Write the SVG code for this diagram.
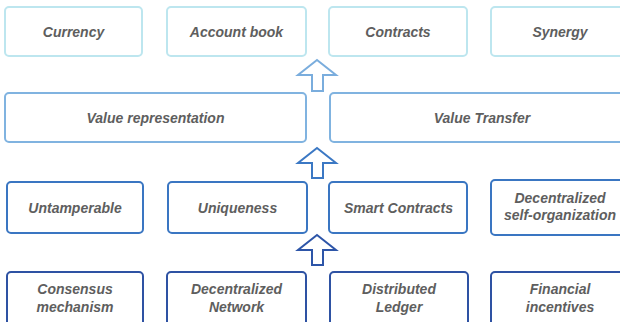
<svg xmlns="http://www.w3.org/2000/svg" width="620" height="322" viewBox="0 0 620 322">
  <style>
    .box { fill: #ffffff; stroke-width: 2; }
    .l1 { stroke: #bde6ef; }
    .l2 { stroke: #80b3e0; }
    .l3 { stroke: #3a76c2; }
    .l4 { stroke: #2e52a3; }
    .lbl { font-family: "Liberation Sans", Arial, sans-serif; font-size: 14px; font-weight: bold; font-style: italic; fill: #5e5e5e; text-anchor: middle; }
    .up { fill: #ffffff; stroke-width: 2; stroke-linejoin: miter; }
  </style>
  <rect width="620" height="322" fill="#ffffff"/>

  <!-- top layer: applications -->
  <g id="currency"><rect class="box l1" x="5" y="7" width="137" height="49" rx="4"/><text class="lbl" x="73.5" y="36.5">Currency</text></g>
  <g id="account-book"><rect class="box l1" x="167" y="7" width="139" height="49" rx="4"/><text class="lbl" x="236.5" y="36.5">Account book</text></g>
  <g id="contracts"><rect class="box l1" x="329" y="7" width="138" height="49" rx="4"/><text class="lbl" x="398" y="36.5">Contracts</text></g>
  <g id="synergy"><rect class="box l1" x="491" y="7" width="139" height="49" rx="4"/><text class="lbl" x="560" y="36.5">Synergy</text></g>

  <!-- value layer -->
  <g id="value-representation"><rect class="box l2" x="5" y="93" width="301" height="49" rx="4"/><text class="lbl" x="155.5" y="122.5">Value representation</text></g>
  <g id="value-transfer"><rect class="box l2" x="330" y="93" width="300" height="49" rx="4"/><text class="lbl" x="482" y="122.5">Value Transfer</text></g>

  <!-- properties layer -->
  <g id="untamperable"><rect class="box l3" x="7" y="182" width="136" height="51" rx="4"/><text class="lbl" x="75" y="212.5">Untamperable</text></g>
  <g id="uniqueness"><rect class="box l3" x="168" y="182" width="139" height="51" rx="4"/><text class="lbl" x="237.5" y="212.5">Uniqueness</text></g>
  <g id="smart-contracts"><rect class="box l3" x="329" y="182" width="138" height="51" rx="4"/><text class="lbl" x="398.5" y="212.5">Smart Contracts</text></g>
  <g id="self-organization"><rect class="box l3" x="491" y="180" width="139" height="55" rx="4"/><text class="lbl" x="560" y="203">Decentralized</text><text class="lbl" x="560" y="220">self-organization</text></g>

  <!-- foundation layer -->
  <g id="consensus"><rect class="box l4" x="7" y="272" width="136" height="60" rx="4"/><text class="lbl" x="75" y="294">Consensus</text><text class="lbl" x="75" y="312">mechanism</text></g>
  <g id="network"><rect class="box l4" x="167" y="272" width="139" height="60" rx="4"/><text class="lbl" x="236.5" y="294">Decentralized</text><text class="lbl" x="236.5" y="312">Network</text></g>
  <g id="ledger"><rect class="box l4" x="330" y="272" width="138" height="60" rx="4"/><text class="lbl" x="399" y="294">Distributed</text><text class="lbl" x="399" y="312">Ledger</text></g>
  <g id="incentives"><rect class="box l4" x="491" y="272" width="139" height="60" rx="4"/><text class="lbl" x="560" y="294">Financial</text><text class="lbl" x="560" y="312">incentives</text></g>

  <!-- connectors: hollow block arrows between layers -->
  <g id="connectors">
    <path class="up" stroke="#7aaddd" d="M317 60 L336 75 L323 75 L323 91 L312 91 L312 75 L298 75 Z"/>
    <path class="up" stroke="#3b78c4" d="M317 148 L336 163 L323 163 L323 178 L312 178 L312 163 L298 163 Z"/>
    <path class="up" stroke="#2d55a8" d="M317 235 L336 250 L323 250 L323 265 L312 265 L312 250 L298 250 Z"/>
  </g>
</svg>
